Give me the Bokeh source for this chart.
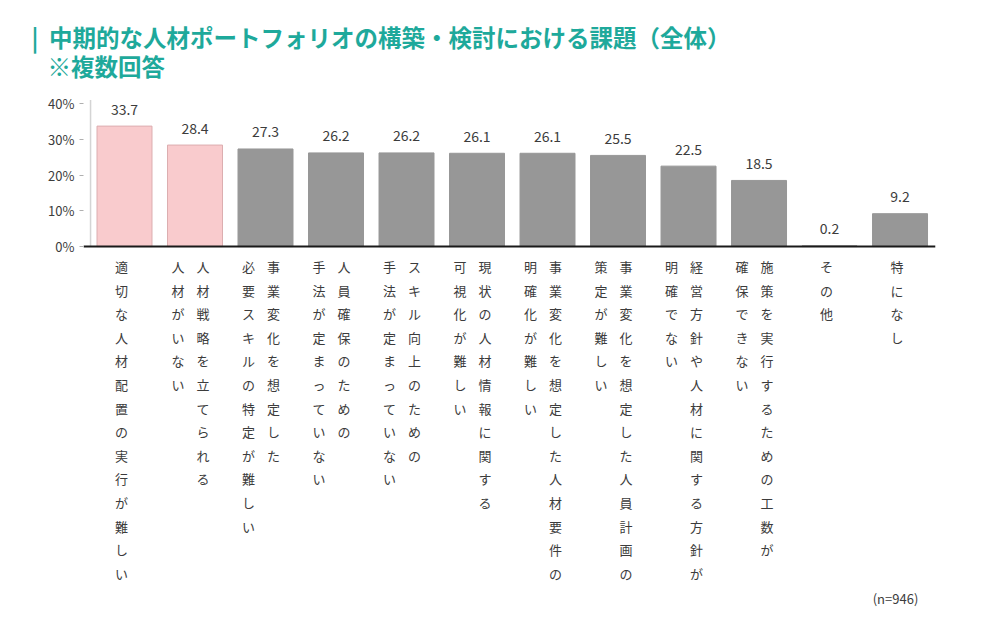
from bokeh.plotting import figure
from bokeh.models import Range1d, FixedTicker, Title, ColumnDataSource
from bokeh.core.properties import value
from bokeh.embed import file_html
from bokeh.resources import INLINE

# ---------------- data ----------------
label_main = [
    "適切な人材配置の実行が難しい",
    "人材戦略を立てられる",
    "事業変化を想定した",
    "人員確保のための",
    "スキル向上のための",
    "現状の人材情報に関する",
    "事業変化を想定した人材要件の",
    "事業変化を想定した人員計画の",
    "経営方針や人材に関する方針が",
    "施策を実行するための工数が",
    "その他",
    "特になし",
]
label_cont = [
    "",
    "人材がいない",
    "必要スキルの特定が難しい",
    "手法が定まっていない",
    "手法が定まっていない",
    "可視化が難しい",
    "明確化が難しい",
    "策定が難しい",
    "明確でない",
    "確保できない",
    "",
    "",
]
values = [33.7, 28.4, 27.3, 26.2, 26.2, 26.1, 26.1, 25.5, 22.5, 18.5, 0.2, 9.2]
highlighted = [True, True, False, False, False, False, False, False, False, False, False, False]
tick_values = [0, 10, 20, 30, 40]
tick_labels = ["0%", "10%", "20%", "30%", "40%"]
title_text = "中期的な人材ポートフォリオの構築・検討における課題（全体）"
subtitle_text = "※複数回答"
note_text = "(n=946)"

# ---------------- style ----------------
FONT = "Noto Sans CJK JP"
TEAL = "#1ea99b"
PINK = "#f9cbcd"
PINK_LINE = "#dcaeb0"
GRAY = "#979797"
TEXT = "#3c3c3c"
X_START = -0.5816
X_END = 11.645
Y_START = -101.8
Y_END = 42.26
CHAR_STEP = 23.6
NB = "\u00a0"

n = len(values)
idx = list(range(n))

p = figure(width=1000, height=618,
           x_range=Range1d(X_START, X_END), y_range=Range1d(Y_START, Y_END),
           x_axis_type=None, toolbar_location=None, output_backend="svg",
           min_border_left=83, min_border_right=55, min_border_top=95,
           min_border_bottom=8)
p.outline_line_color = None
p.xgrid.visible = False
p.ygrid.visible = False

ax = p.yaxis[0]
ax.ticker = FixedTicker(ticks=tick_values)
ax.major_label_overrides = {v: s for v, s in zip(tick_values, tick_labels)}
ax.axis_line_color = None
ax.major_tick_in = 0
ax.major_tick_out = 4
ax.major_tick_line_color = "#b0b0b0"
ax.minor_tick_line_color = None
ax.major_label_text_font = FONT
ax.major_label_text_font_size = "13px"
ax.major_label_text_color = TEXT
ax.major_label_standoff = 5

# two-line title
full_title = "|" + NB * 2 + title_text + "\n" + NB * 3 + subtitle_text
p.add_layout(Title(text=full_title, text_font=FONT, text_font_size="23.5px",
                   text_font_style="bold", text_color=TEAL, align="left",
                   vertical_align="top",
                   offset=-52, standoff=21, text_line_height=0.84), "above")

# axis line (0..40)
p.segment(x0=[X_START + 0.1], x1=[X_START + 0.1], y0=[0], y1=[tick_values[-1] + 1],
          line_color="#d4d4d4", line_width=1.5)

# bars
src = ColumnDataSource(dict(
    x=idx, top=values,
    fill=[PINK if h else GRAY for h in highlighted],
    line=[PINK_LINE if h else GRAY for h in highlighted],
    lab=[f"{v:.1f}" for v in values],
))
p.vbar(x="x", top="top", width=0.78, bottom=0, fill_color="fill", line_color="line",
       line_width=1, source=src)

# baseline
p.segment(x0=[X_START], x1=[n - 0.5], y0=[0], y1=[0], line_color="#1a1a1a", line_width=2)

# value labels
p.text(x="x", y="top", text="lab", source=src, y_offset=-17,
       text_font=value(FONT), text_font_size="14px", text_color=TEXT,
       text_align="center", text_baseline="middle")

# vertical category labels
cx, cy, ct, cxo, cyo = [], [], [], [], []
for i, (a, b) in enumerate(zip(label_main, label_cont)):
    cols = [(a, -3)] if not b else [(a, 8), (b, -17)]
    for s, off in cols:
        for k, ch in enumerate(s):
            cx.append(i); cy.append(0); ct.append(ch)
            cxo.append(off); cyo.append(20 + CHAR_STEP * k)
lsrc = ColumnDataSource(dict(x=cx, y=cy, t=ct, xo=cxo, yo=cyo))
p.text(x="x", y="y", text="t", x_offset="xo", y_offset="yo", source=lsrc,
       text_font=value(FONT), text_font_size="13px", text_color=TEXT,
       text_align="center", text_baseline="middle")

# note
p.text(x=[n - 0.5], y=[Y_START], text=[note_text], x_offset=-17, y_offset=-12,
       text_font=value(FONT), text_font_size="13px", text_color=TEXT,
       text_align="right", text_baseline="middle")

open("out.html", "w").write(file_html(p, INLINE))
